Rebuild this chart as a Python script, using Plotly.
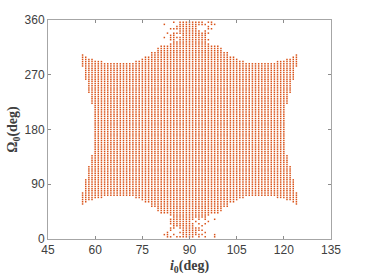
import plotly.graph_objects as go

# Solid region: per-column limits (columns 56..90, mirrored about 90)
inclination_half = list(range(56, 91))
upper_top = [303, 300, 297, 296, 295, 294, 292, 290, 288.6, 288.6, 288.6, 288.6, 288.6, 288.6, 288.6, 288.6, 288.6,
             292, 292, 296, 300, 302, 306, 309, 315, 317, 320, 320, 322, 324, 324, 324, 324, 324, 324]
# Inner notch on the far-left columns: lowest upper-half Omega that is filled
notch_columns = [56, 57, 58, 59]
notch_floor = [284, 262, 241, 221]

omega_rows = [round(3.6 * k, 1) for k in range(0, 101)]

sparse_top = {
    356.4: [85, 87, 88, 89, 90, 91, 92, 93, 94, 96, 97],
    352.8: [82, 87, 88, 89, 90, 91, 92, 93, 94, 95, 97, 98],
    349.2: [86, 87, 88, 89, 90, 91, 92, 96],
    345.6: [84, 85, 86, 87, 88, 89, 90, 91, 92, 96, 97],
    342.0: [87, 88, 89, 90, 91, 92, 93, 95],
    338.4: [83, 85, 86, 87, 88, 89, 90, 91, 92, 93, 94, 95, 96],
    334.8: [84, 85, 88, 89, 90, 91, 92, 93, 94, 95],
    331.2: [82, 84, 85, 86, 87, 88, 89, 90, 91, 92, 93, 94, 95],
    327.6: [84, 85, 87, 88, 89, 90, 91, 92, 93, 94, 95, 96],
}
sparse_bottom = {
    3.6: [83, 84, 86, 87, 88, 89, 90, 91, 93, 95, 98],
    7.2: [82, 83, 85, 88, 89, 90, 91, 92, 93, 94, 98],
    10.8: [83, 87, 88, 89, 90, 91, 92, 95],
    14.4: [84, 88, 89, 90, 91, 92, 93, 94],
    18.0: [84, 85, 87, 88, 89, 90, 91, 92, 93],
    21.6: [85, 86, 87, 88, 89, 90, 91, 94],
    25.2: [84, 85, 86, 87, 88, 89, 90, 91, 93, 95],
    28.8: [84, 85, 86, 87, 88, 89, 90, 92, 96],
    32.4: [84, 85, 86, 87, 88, 89, 90, 91, 93, 95, 98],
}

x_ticks = [45, 60, 75, 90, 105, 120, 135]
y_ticks = [0, 90, 180, 270, 360]

xs, ys = [], []
top_by_col = dict(zip(inclination_half, upper_top))
floor_by_col = dict(zip(notch_columns, notch_floor))
for col in range(56, 125):
    key = col if col <= 90 else 180 - col
    top = top_by_col[key]
    floor = floor_by_col.get(key)
    for om in omega_rows:
        if om < 360 - top or om > top:
            continue
        if floor is not None and 360 - floor < om < floor:
            continue
        xs.append(col)
        ys.append(om)
for table in (sparse_top, sparse_bottom):
    for om, cols in table.items():
        for col in cols:
            xs.append(col)
            ys.append(om)

fig = go.Figure(go.Scatter(x=xs, y=ys, mode="markers",
                           marker=dict(symbol="square", size=1.5, color="#D95319", line=dict(width=0)),
                           hoverinfo="skip"))
axis_common = dict(showgrid=False, zeroline=False, showline=True, mirror="ticks", linecolor="#a6a6a6", linewidth=1,
                   ticks="inside", ticklen=3, tickwidth=1, tickcolor="#8c8c8c", automargin=False,
                   tickfont=dict(family="Liberation Sans", size=12, color="#404040"))
title_font = dict(family="Liberation Serif", size=14, color="#404040")
fig.update_layout(
    width=366, height=275, margin=dict(l=48, r=35, t=20, b=36), autosize=False,
    paper_bgcolor="white", plot_bgcolor="white", showlegend=False,
    xaxis=dict(range=[45, 135], tickvals=x_ticks, ticktext=[str(v) for v in x_ticks],
               title=dict(text="<b><i>i</i><sub>0</sub>(deg)</b>", font=title_font), **axis_common),
    yaxis=dict(range=[0, 360], tickvals=y_ticks, ticktext=[str(v) for v in y_ticks],
               title=dict(text="<b>Ω<sub>0</sub>(deg)</b>", font=title_font, standoff=3), **axis_common),
)
fig.write_html("out.html", post_script="document.body.style.margin='0';",
               config={"displayModeBar": False})
